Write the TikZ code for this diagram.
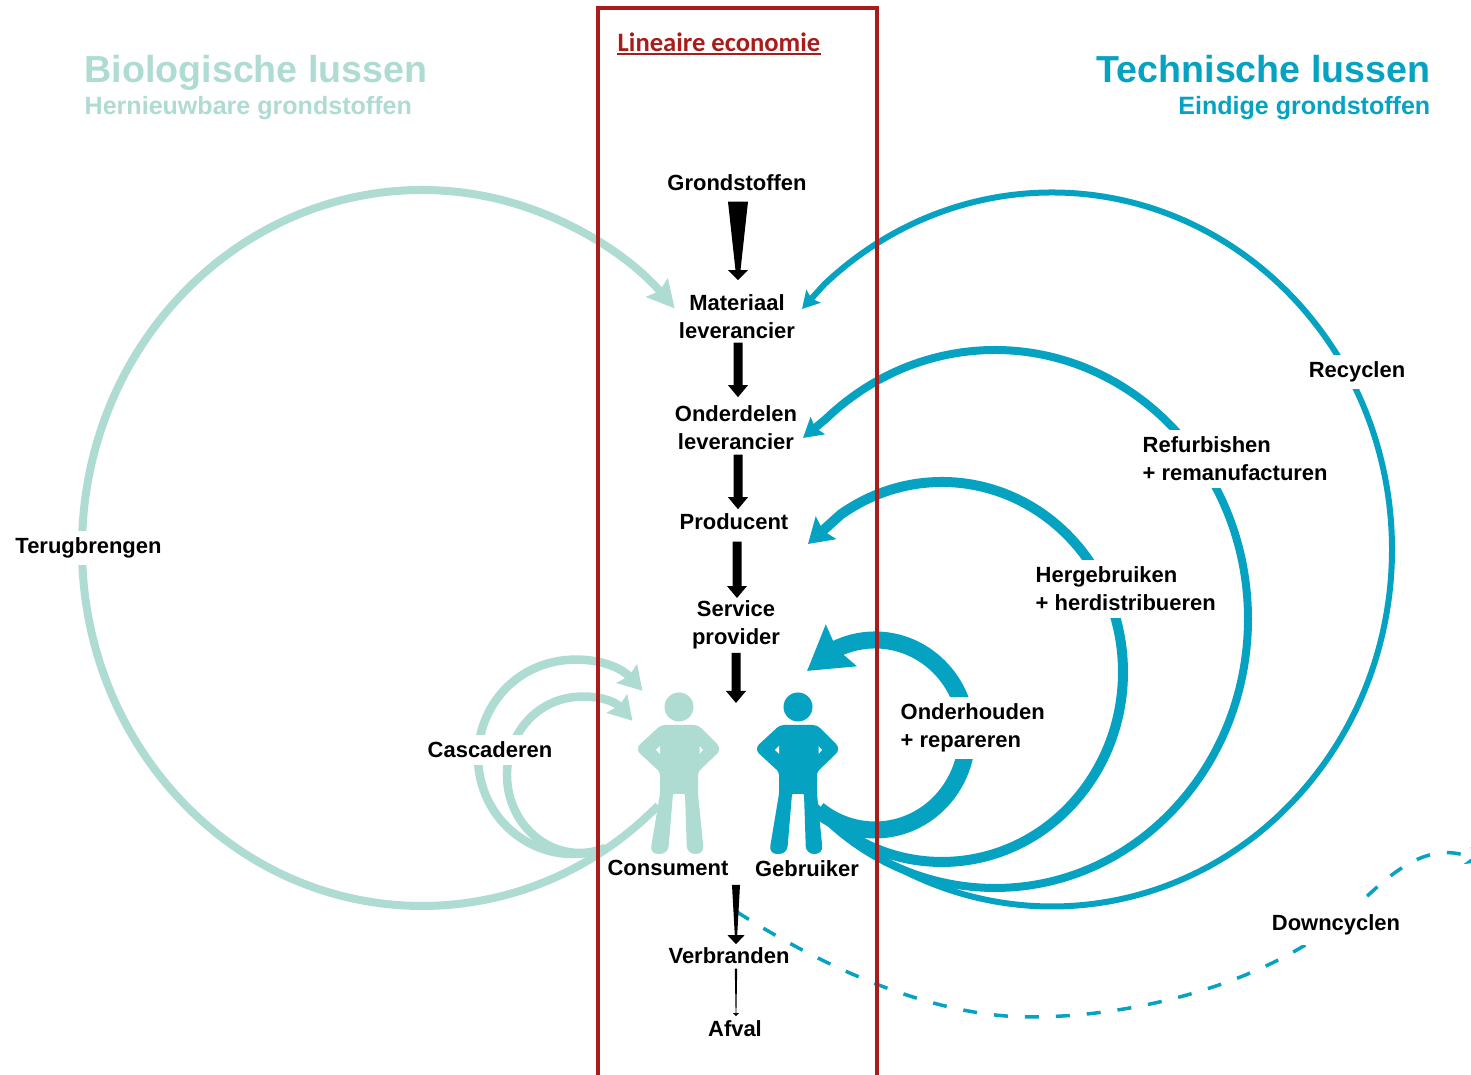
\documentclass[tikz,border=0pt]{standalone}
\usepackage{fontspec}
\setmainfont{Liberation Sans}
\newfontfamily\carlito{Carlito}
\usetikzlibrary{calc}
\usetikzlibrary{arrows.meta}
\definecolor{lichtgroen}{HTML}{AEDBD2}
\definecolor{techblauw}{HTML}{05A2C2}
\definecolor{kaderrood}{HTML}{A81C1C}
\tikzset{
    stap/.style={font=\fontsize{6.25}{7.97}\selectfont\bfseries, align=center, inner sep=0pt},
    luslabel/.style={font=\fontsize{6.25}{7.97}\selectfont\bfseries, align=left, fill=white, inner xsep=0.02cm, inner ysep=0.07cm},
    koptekst/.style={font=\fontsize{10.7}{12}\selectfont\bfseries, inner sep=0pt},
    subtekst/.style={font=\fontsize{7.13}{9}\selectfont\bfseries, inner sep=0pt},
    biolus/.style={draw=lichtgroen, line width=#1, -{Stealth[length=0.27cm,width=0.28cm,inset=0.04cm]}},
    techlus/.style={draw=techblauw, line width=#1, -{Stealth[length=0.17cm,width=0.19cm,inset=0.03cm]}},
    pics/persoon/.style={code={
        \fill[#1] (0,0) circle (0.145);
        \fill[#1, rounded corners=0.04cm] (0.19,-0.18) [rounded corners=0.07cm] -- (0.43,-0.42) [rounded corners=0.03cm] -- (0.19,-0.65) -- (0.19,-0.87)
            [rounded corners=0.078cm] -- (0.25,-1.47) -- (0.08,-1.47) [rounded corners=0.01cm] -- (0.06,-0.87) -- (-0.06,-0.87)
            [rounded corners=0.078cm] -- (-0.11,-1.47) -- (-0.29,-1.47) [rounded corners=0.03cm] -- (-0.19,-0.87) -- (-0.19,-0.65)
            [rounded corners=0.07cm] -- (-0.44,-0.42) [rounded corners=0.04cm] -- (-0.18,-0.18) -- cycle;
        \fill[white] (0.205,-0.39) -- (0.24,-0.43) -- (0.205,-0.47) -- cycle;
        \fill[white] (-0.19,-0.39) -- (-0.23,-0.43) -- (-0.19,-0.47) -- cycle;
    }}
}
\newcommand{\taperpijl}[6]{%
    \fill let \p1=(#1), \p2=(#2) in
        (\x1-#3cm,\y1) -- (\x1+#3cm,\y1) -- (\x1+#4cm,\y2+#6cm) -- (\x1+#5cm,\y2+#6cm) -- (\x1,\y2)
        -- (\x1-#5cm,\y2+#6cm) -- (\x1-#4cm,\y2+#6cm) -- cycle;}

\begin{document}
\begin{tikzpicture}
    \path[use as bounding box, clip] (0,0) rectangle (14.71,10.75);

    % Headings
    \node[koptekst, anchor=base west, text=lichtgroen] (biokop) at (0.84,9.92) {Biologische lussen};
    \node[subtekst, anchor=base west, text=lichtgroen] (biosub) at (0.84,9.60) {Hernieuwbare grondstoffen};
    \node[koptekst, anchor=base east, text=techblauw] (techkop) at (14.31,9.92) {Technische lussen};
    \node[subtekst, anchor=base east, text=techblauw] (techsub) at (14.31,9.60) {Eindige grondstoffen};

    % Biological loops
    \coordinate (midbio) at (4.22,5.27);
    \coordinate (midcasbuiten) at (5.73,3.18);
    \coordinate (midcasbinnen) at (5.80,3.00);
    \draw[biolus=0.08cm] ($(midbio)+(-46:3.4 and 3.58)$) arc[start angle=-46, end angle=-318, x radius=3.4, y radius=3.58];
    \draw[biolus=0.085cm, -{Stealth[length=0.23cm,width=0.27cm,inset=0.03cm]}] ($(midcasbuiten)+(-70:0.95 and 0.97)$) arc[start angle=-70, end angle=-317, x radius=0.95, y radius=0.97];
    \draw[biolus=0.085cm, -{Stealth[length=0.23cm,width=0.27cm,inset=0.03cm]}] ($(midcasbinnen)+(-70:0.73 and 0.78)$) arc[start angle=-70, end angle=-316, x radius=0.73, y radius=0.78];

    % Technical loops
    \coordinate (midrecycle) at (10.52,5.255);
    \coordinate (midrefurb) at (9.95,4.56);
    \coordinate (midhergebruik) at (9.42,4.03);
    \coordinate (midonderhoud) at (8.75,3.40);
    \coordinate (tiprecycle) at (8.02,7.66);
    \coordinate (tiprefurb) at (8.03,6.37);
    \coordinate (tiphergebruik) at (8.08,5.31);
    \coordinate (tiponderhoud) at (8.07,4.04);
    \draw[techlus=0.06cm] ($(midrecycle)+(-134:3.4 and 3.57)$) arc[start angle=-134, end angle=132, x radius=3.4, y radius=3.57] -- (tiprecycle);
    \draw[techlus=0.08cm, -{Stealth[length=0.19cm,width=0.22cm,inset=0.03cm]}] ($(midrefurb)+(-135:2.53 and 2.69)$) arc[start angle=-135, end angle=132, x radius=2.53, y radius=2.69] -- (tiprefurb);
    \draw[techlus=0.10cm, -{Stealth[length=0.24cm,width=0.3cm,inset=0.04cm]}] ($(midhergebruik)+(-130:1.81 and 1.90)$) arc[start angle=-130, end angle=124, x radius=1.81, y radius=1.90] -- (tiphergebruik);
    \draw[techlus=0.17cm, -{Stealth[length=0.42cm,width=0.5cm,inset=0.05cm]}] ($(midonderhoud)+(-128:0.92 and 0.95)$) arc[start angle=-128, end angle=114, x radius=0.92, y radius=0.95] -- (tiponderhoud);

    % Downcycling
    \coordinate (downstart) at (7.37,1.63);
    \coordinate (downeind) at (14.82,2.13);
    \draw[draw=techblauw, line width=0.035cm, dash pattern=on 0.14cm off 0.17cm, -{Stealth[length=0.16cm,width=0.18cm]}]
        (downstart) .. controls (8.20,1.10) and (9.30,0.58) .. (10.30,0.58)
        .. controls (11.50,0.58) and (12.90,1.00) .. (13.63,1.75)
        .. controls (13.95,2.05) and (14.30,2.35) .. (downeind);

    % Labels on the loops
    \node[luslabel] (terugbrengen) at (0.885,5.27) {Terugbrengen};
    \node[luslabel] (cascaderen) at (4.90,3.25) {Cascaderen};
    \node[luslabel] (recyclen) at (13.57,7.03) {Recyclen};
    \node[luslabel, anchor=west] (refurbishen) at (11.40,6.16) {Refurbishen\\+ remanufacturen};
    \node[luslabel, anchor=west] (hergebruiken) at (10.33,4.86) {Hergebruiken\\+ herdistribueren};
    \node[luslabel, anchor=west] (onderhouden) at (8.98,3.47) {Onderhouden\\+ repareren};
    \node[luslabel, inner ysep=0.10cm] (downcyclen) at (13.36,1.50) {Downcyclen};

    % Linear chain
    \node[stap] (grondstoffen) at (7.37,8.92) {Grondstoffen};
    \node[stap] (materiaal) at (7.37,7.58) {Materiaal\\leverancier};
    \node[stap] (onderdelen) at (7.36,6.47) {Onderdelen\\leverancier};
    \node[stap] (producent) at (7.34,5.53) {Producent};
    \node[stap] (service) at (7.36,4.50) {Service\\provider};
    \node[stap] (consument) at (6.68,2.07) {Consument};
    \node[stap] (gebruiker) at (8.07,2.06) {Gebruiker};
    \node[stap] (verbranden) at (7.29,1.19) {Verbranden};
    \node[stap] (afval) at (7.35,0.46) {Afval};
    \coordinate (tussen) at (7.36,3.72);
    \coordinate (naverbruik) at (7.36,1.90);

    \taperpijl{$(grondstoffen.south)+(0.01,-0.10)$}{$(materiaal.north)+(0,0.14)$}{0.10}{0.025}{0.10}{0.10}
    \taperpijl{$(materiaal.south)+(0.01,-0.03)$}{$(onderdelen.north)+(0,0.08)$}{0.045}{0.045}{0.10}{0.12}
    \taperpijl{$(onderdelen.south)+(0.02,-0.04)$}{$(producent.north)+(0,0.04)$}{0.045}{0.045}{0.10}{0.12}
    \taperpijl{$(producent.south)+(0.03,-0.11)$}{$(service.north)+(0,0.02)$}{0.045}{0.045}{0.10}{0.12}
    \taperpijl{$(service.south)+(0,-0.03)$}{tussen}{0.045}{0.045}{0.10}{0.12}
    \taperpijl{naverbruik}{$(verbranden.north)+(0,0.03)$}{0.04}{0.012}{0.085}{0.09}
    \taperpijl{$(verbranden.south)+(0.07,-0.04)$}{$(afval.north)+(0,0.04)$}{0.012}{0.004}{0.03}{0.03}

    % People
    \pic (figconsument) at (6.79,3.68) {persoon=lichtgroen};
    \pic (figgebruiker) at (7.98,3.68) {persoon=techblauw};

    % Frame
    \draw[kaderrood, line width=0.04cm] (5.98,-0.2) -- (5.98,10.67) -- (8.77,10.67) -- (8.77,-0.2);
    \node[anchor=base west, text=kaderrood, inner sep=0pt, font=\carlito\fontsize{7.57}{9}\selectfont\bfseries] (lineair) at (6.17,10.23) {Lineaire economie};
    \draw[kaderrood, line width=0.02cm] ($(lineair.base west)+(0,-0.02)$) -- ($(lineair.base east)+(0,-0.02)$);
\end{tikzpicture}
\end{document}
